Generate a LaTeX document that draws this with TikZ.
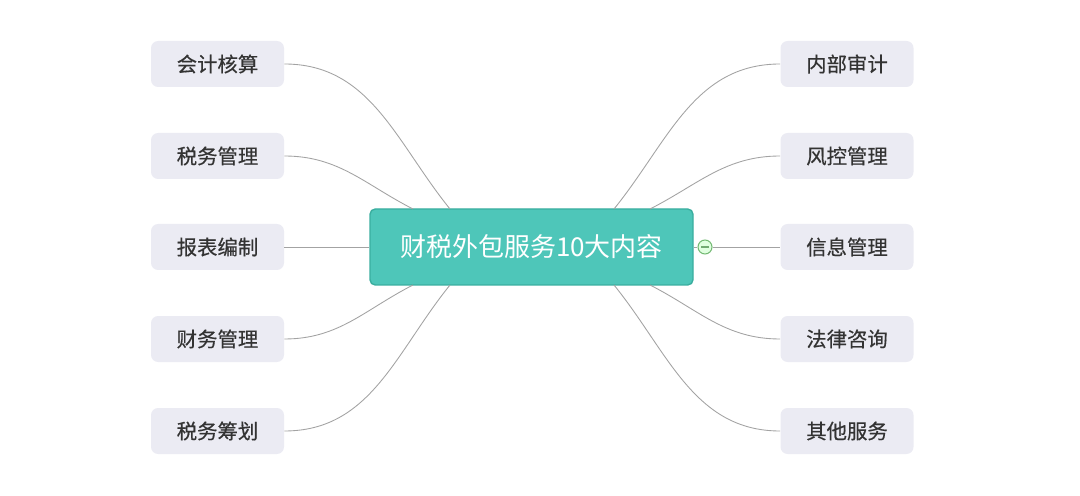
\documentclass[tikz,border=0pt]{standalone}
\usepackage{fontspec}
\setmainfont{Noto Sans CJK SC}
\newfontfamily\leaffont[FakeBold=0.5]{Noto Sans CJK SC}
\usepackage{xcolor}
\usepackage{tikz}
\usetikzlibrary{calc, positioning}

\definecolor{hubfill}{HTML}{4EC6B9}
\definecolor{hubedge}{HTML}{3AAE9F}
\definecolor{leaffill}{HTML}{EBEBF3}
\definecolor{leaftext}{HTML}{333333}
\definecolor{linkgray}{HTML}{A3A3A3}

\begin{document}
\begin{tikzpicture}[
    hub/.style={draw=hubedge, line width=0.8pt, fill=hubfill, rounded corners=3pt,
        minimum width=6.46cm, minimum height=1.52cm, text=white,
        font=\fontsize{14.8}{18}\selectfont},
    leaf/.style={fill=leaffill, rounded corners=4pt, minimum width=2.66cm,
        minimum height=0.92cm, text=leaftext, font=\leaffont\fontsize{11.6}{14}\selectfont},
    link/.style={draw=linkgray, line width=0.5pt}]
    % Khung hình
    \useasboundingbox (0,0) rectangle (21.6,9.9);

    % Điểm nối trên cạnh nút trung tâm
    \coordinate (t1) at (9.00,5.72);
    \coordinate (t2) at (8.26,5.72);
    \coordinate (b4) at (8.26,4.20);
    \coordinate (b5) at (9.00,4.20);
    \coordinate (t6) at (12.28,5.72);
    \coordinate (t7) at (13.00,5.72);
    \coordinate (b9) at (13.00,4.20);
    \coordinate (b10) at (12.28,4.20);

    % Nút trung tâm
    \node[hub] (hub) at (10.63,4.96) {财税外包服务10大内容};

    % Cột trái
    \node[leaf] (l1) at (4.35,8.62) {会计核算};
    \node[leaf] (l2) at (4.35,6.78) {税务管理};
    \node[leaf] (l3) at (4.35,4.96) {报表编制};
    \node[leaf] (l4) at (4.35,3.12) {财务管理};
    \node[leaf] (l5) at (4.35,1.28) {税务筹划};

    % Cột phải
    \node[leaf] (r1) at (16.94,8.62) {内部审计};
    \node[leaf] (r2) at (16.94,6.78) {风控管理};
    \node[leaf] (r3) at (16.94,4.96) {信息管理};
    \node[leaf] (r4) at (16.94,3.12) {法律咨询};
    \node[leaf] (r5) at (16.94,1.28) {其他服务};

    % Nút thu gọn
    \node[circle, draw=green!50!black!55, fill=green!12, line width=0.6pt,
        inner sep=0pt, minimum size=0.28cm] (fold) at (14.10,4.96) {};
    \draw[green!40!black!55, line width=0.9pt] ($(fold.center)+(-0.08,0)$) -- ($(fold.center)+(0.08,0)$);

    % Đường nối
    \draw[link] (l1.east) to[out=0, in=129] (t1);
    \draw[link] (l2.east) to[out=0, in=153] (t2);
    \draw[link] (l3.east) -- (hub.west);
    \draw[link] (l4.east) to[out=0, in=207] (b4);
    \draw[link] (l5.east) to[out=0, in=231] (b5);
    \draw[link] (r1.west) to[out=180, in=51] (t6);
    \draw[link] (r2.west) to[out=180, in=27] (t7);
    \draw[link] (hub.east) -- (fold.west);
    \draw[link] (fold.east) -- (r3.west);
    \draw[link] (r4.west) to[out=180, in=-27] (b9);
    \draw[link] (r5.west) to[out=180, in=-51] (b10);
\end{tikzpicture}
\end{document}
